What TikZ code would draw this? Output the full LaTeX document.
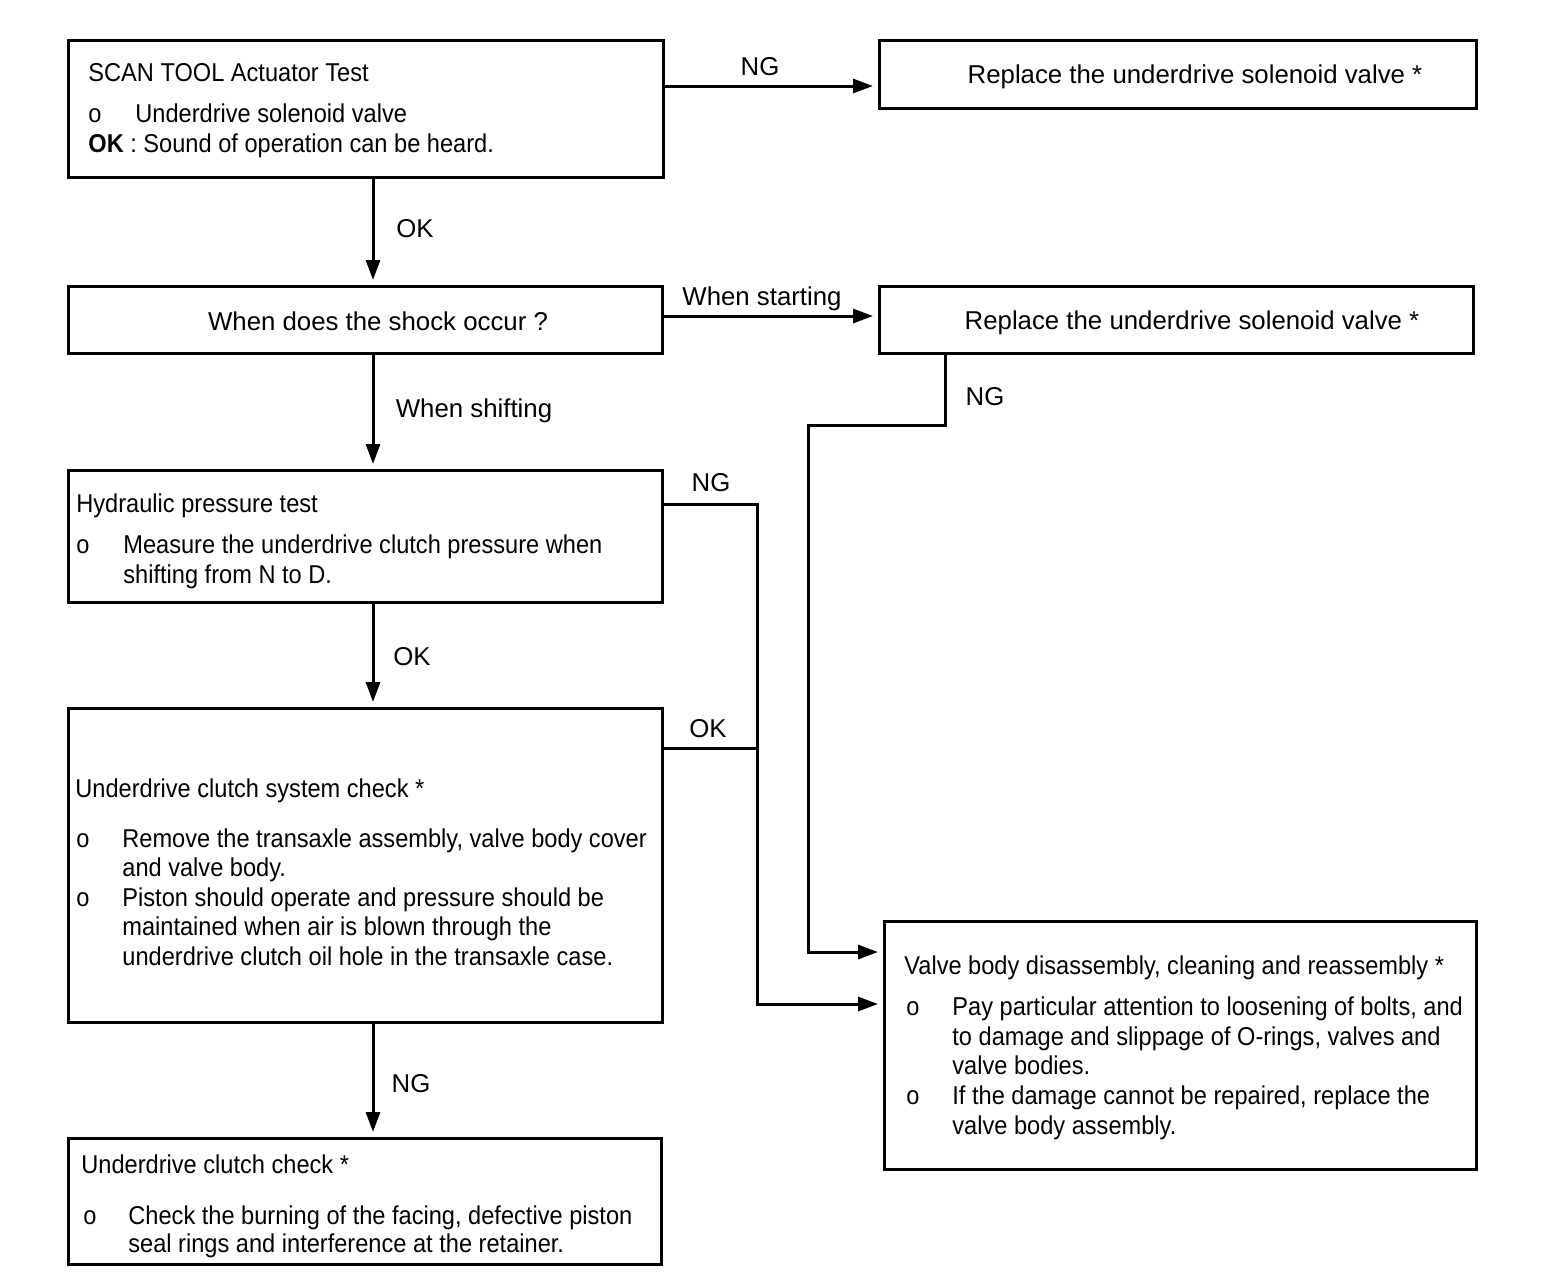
\documentclass[tikz,border=0pt]{standalone}
\usepackage{fontspec}
\setmainfont{Liberation Sans}
\newfontfamily\boxfont[FakeStretch=0.915]{Liberation Sans}
\usetikzlibrary{arrows.meta}

\begin{document}
\begin{tikzpicture}[x=0.5pt, y=-0.5pt,
    box/.style={draw, line width=1.5pt, inner sep=0pt, outer sep=0pt},
    txt/.style={inner sep=0pt, anchor=base west, font=\boxfont\fontsize{12.9}{15}\selectfont},
    lbl/.style={inner sep=0pt, anchor=base, font=\fontsize{12.9}{15}\selectfont},
    link/.style={line width=1.5pt},
    arr/.style={line width=1.5pt, -{Triangle[length=10pt,width=7pt]}, shorten >=3pt}]
        \useasboundingbox (0,0) rectangle (1568,1282);
        % boxes
        \node[box, minimum width=297.5pt, minimum height=68.5pt] (scan) at (365.5,108.5) {};
        \node[box, minimum width=298.5pt, minimum height=34pt] (repl1) at (1177.5,74) {};
        \node[box, minimum width=297pt, minimum height=33.5pt] (shock) at (365,319.5) {};
        \node[box, minimum width=297pt, minimum height=33.5pt] (repl2) at (1176,319.5) {};
        \node[box, minimum width=297pt, minimum height=66pt] (hyd) at (365,536) {};
        \node[box, minimum width=297pt, minimum height=157pt] (sys) at (365,865) {};
        \node[box, minimum width=296.5pt, minimum height=63pt] (clutch) at (364.5,1201) {};
        \node[box, minimum width=296pt, minimum height=124pt] (valve) at (1180,1045) {};
        % texts
        \node[txt] (scan1) at (88,81) {SCAN TOOL Actuator Test};
        \node[txt] (scan2o) at (88,122) {o};
        \node[txt] (scan2) at (135,122) {Underdrive solenoid valve};
        \node[txt] (scan3) at (88,152) {\textbf{OK} : Sound of operation can be heard.};
        \node[lbl] (repl1t) at (1195,83) {Replace the underdrive solenoid valve *};
        \node[lbl] (shockt) at (378,330) {When does the shock occur ?};
        \node[lbl] (repl2t) at (1192,329) {Replace the underdrive solenoid valve *};
        \node[txt] (hyd1) at (76,512) {Hydraulic pressure test};
        \node[txt] (hyd2o) at (76,553) {o};
        \node[txt] (hyd2) at (123,553) {Measure the underdrive clutch pressure when};
        \node[txt] (hyd3) at (123,583) {shifting from N to D.};
        \node[txt] (sys1) at (75,797) {Underdrive clutch system check *};
        \node[txt] (sys2o) at (76,847) {o};
        \node[txt] (sys2) at (122,847) {Remove the transaxle assembly, valve body cover};
        \node[txt] (sys3) at (122,876) {and valve body.};
        \node[txt] (sys4o) at (76,906) {o};
        \node[txt] (sys4) at (122,906) {Piston should operate and pressure should be};
        \node[txt] (sys5) at (122,935) {maintained when air is blown through the};
        \node[txt] (sys6) at (122,965) {underdrive clutch oil hole in the transaxle case.};
        \node[txt] (clutch1) at (81,1173) {Underdrive clutch check *};
        \node[txt] (clutch2o) at (83,1224) {o};
        \node[txt] (clutch2) at (128,1224) {Check the burning of the facing, defective piston};
        \node[txt] (clutch3) at (128,1252) {seal rings and interference at the retainer.};
        \node[txt] (valve1) at (904,974) {Valve body disassembly, cleaning and reassembly *};
        \node[txt] (valve2o) at (906,1015) {o};
        \node[txt] (valve2) at (952,1015) {Pay particular attention to loosening of bolts, and};
        \node[txt] (valve3) at (952,1045) {to damage and slippage of O-rings, valves and};
        \node[txt] (valve4) at (952,1074) {valve bodies.};
        \node[txt] (valve5o) at (906,1104) {o};
        \node[txt] (valve5) at (952,1104) {If the damage cannot be repaired, replace the};
        \node[txt] (valve6) at (952,1134) {valve body assembly.};
        % connectors
        \draw[arr] (scan.east |- 0,86) -- (repl1.west |- 0,86);
        \node[lbl] (ng1) at (760,75) {NG};
        \draw[arr] (scan.south -| 373,0) -- (shock.north -| 373,0);
        \node[lbl] (ok1) at (415,237) {OK};
        \draw[arr] (shock.east |- 0,316) -- (repl2.west |- 0,316);
        \node[lbl] (start) at (762,305) {When starting};
        \draw[arr] (shock.south -| 373,0) -- (hyd.north -| 373,0);
        \node[lbl] (shift) at (474,417) {When shifting};
        \draw[arr] (repl2.south -| 945,0) -- (945,425) -- (808,425) |- (valve.west |- 0,952);
        \node[lbl] (ng2) at (985,405) {NG};
        \draw[arr] (hyd.east |- 0,504) -- (757,504) |- (valve.west |- 0,1004);
        \node[lbl] (ng3) at (711,491) {NG};
        \draw[link] (sys.east |- 0,748) -- (757,748);
        \node[lbl] (ok2) at (708,737) {OK};
        \draw[arr] (hyd.south -| 373,0) -- (sys.north -| 373,0);
        \node[lbl] (ok3) at (412,665) {OK};
        \draw[arr] (sys.south -| 373,0) -- (clutch.north -| 373,0);
        \node[lbl] (ng4) at (411,1092) {NG};
    \end{tikzpicture}
\end{document}
